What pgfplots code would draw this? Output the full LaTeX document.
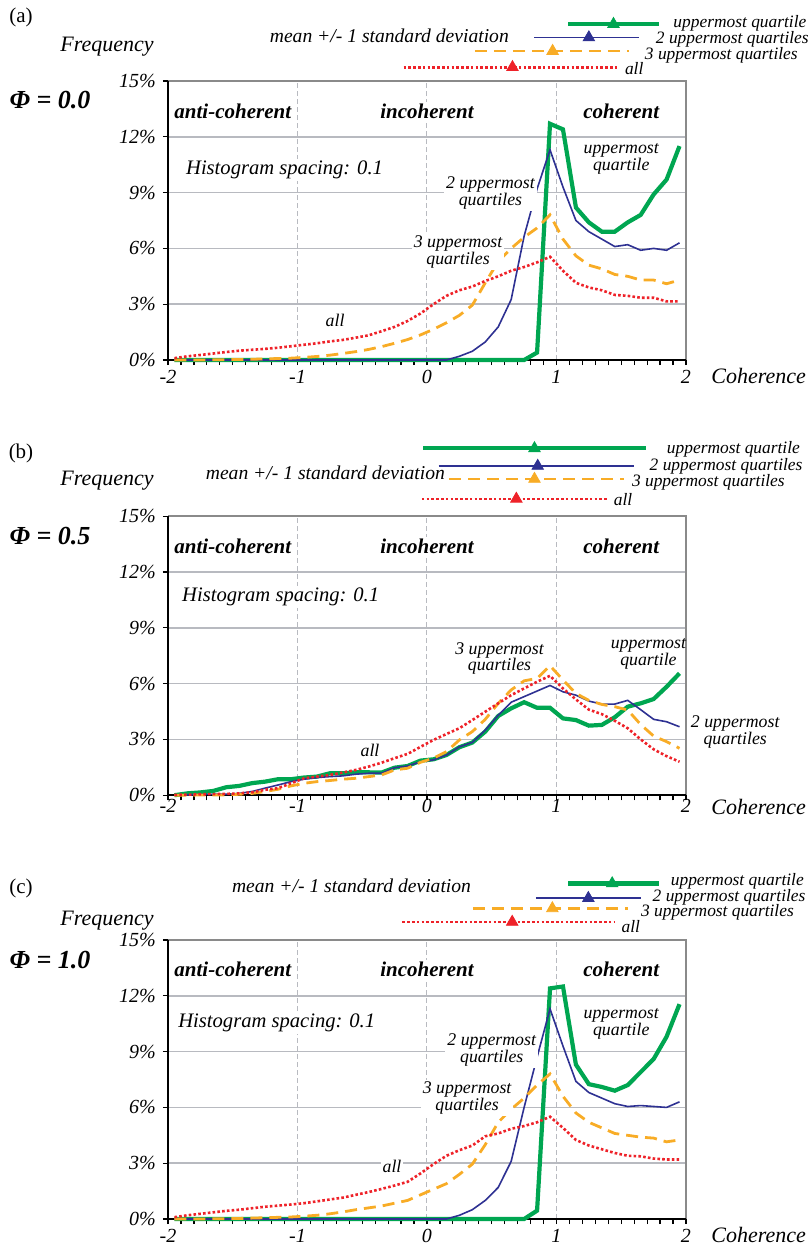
\documentclass[border=0pt]{standalone}
\usepackage{pgfplots}
\pgfplotsset{compat=1.18}
\usepackage{pgfplotstable}
\usepackage{fontspec}
\setmainfont{Liberation Serif}

\definecolor{qgreen}{HTML}{00A651}
\definecolor{qblue}{HTML}{2E3192}
\definecolor{qorange}{HTML}{F8AC26}
\definecolor{qred}{HTML}{EE2229}
\definecolor{gridgray}{HTML}{B8BAC0}
\definecolor{framegray}{HTML}{8A8A8A}

\newcommand{\fs}[2]{\fontsize{#1}{#2}\selectfont}

% columns: bin centre, uppermost quartile, 2 uppermost, 3 uppermost, all (in %)
\pgfplotstableread{
x g b o r
-1.95 0 0 0 0.10
-1.85 0 0 0 0.20
-1.75 0 0 0 0.27
-1.65 0 0 0.01 0.35
-1.55 0 0 0.02 0.43
-1.45 0 0 0.03 0.50
-1.35 0 0 0.04 0.55
-1.25 0 0 0.06 0.60
-1.15 0 0 0.08 0.66
-1.05 0 0 0.10 0.74
-0.95 0 0 0.14 0.82
-0.85 0 0 0.19 0.90
-0.75 0 0 0.26 1.00
-0.65 0 0 0.35 1.08
-0.55 0 0 0.45 1.20
-0.45 0 0 0.57 1.33
-0.35 0 0 0.72 1.55
-0.25 0 0 0.90 1.78
-0.15 0 0 1.10 2.10
-0.05 0 0 1.35 2.50
0.05 0 0 1.65 3.00
0.15 0 0 2.00 3.45
0.25 0 0.20 2.40 3.75
0.35 0 0.47 2.95 3.95
0.45 0 0.97 4.15 4.25
0.55 0 1.78 5.30 4.50
0.65 0 3.25 6.00 4.80
0.75 0 6.66 6.60 5.00
0.85 0.40 9.20 7.10 5.25
0.95 12.70 11.30 7.80 5.55
1.05 12.40 9.30 6.50 4.80
1.15 8.20 7.50 5.60 4.15
1.25 7.40 6.90 5.10 3.90
1.35 6.90 6.50 4.90 3.75
1.45 6.90 6.10 4.60 3.50
1.55 7.40 6.20 4.50 3.45
1.65 7.80 5.90 4.30 3.35
1.75 8.90 6.00 4.30 3.35
1.85 9.70 5.90 4.10 3.15
1.95 11.50 6.30 4.30 3.15
}\tabA

\pgfplotstableread{
x g b o r
-1.95 0.00 0.00 0.00 0.02
-1.85 0.10 0.02 0.00 0.03
-1.75 0.15 0.04 0.01 0.05
-1.65 0.23 0.05 0.01 0.06
-1.55 0.43 0.05 0.02 0.07
-1.45 0.50 0.10 0.05 0.10
-1.35 0.65 0.20 0.10 0.16
-1.25 0.73 0.38 0.20 0.29
-1.15 0.86 0.55 0.32 0.38
-1.05 0.86 0.73 0.50 0.64
-0.95 0.95 0.86 0.64 0.91
-0.85 1.00 0.95 0.73 1.00
-0.75 1.18 1.00 0.79 1.09
-0.65 1.18 1.04 0.86 1.22
-0.55 1.23 1.13 0.91 1.36
-0.45 1.23 1.18 1.00 1.54
-0.35 1.22 1.18 1.09 1.75
-0.25 1.48 1.48 1.36 1.99
-0.15 1.57 1.57 1.45 2.22
-0.05 1.86 1.80 1.77 2.60
0.05 1.93 1.90 1.99 2.97
0.15 2.16 2.16 2.34 3.29
0.25 2.58 2.60 2.97 3.60
0.35 2.83 2.84 3.42 4.04
0.45 3.42 3.50 4.08 4.49
0.55 4.26 4.30 4.94 4.94
0.65 4.67 5.00 5.66 5.38
0.75 5.00 5.30 6.15 5.74
0.85 4.70 5.60 6.28 6.10
0.95 4.70 5.90 6.96 6.42
1.05 4.13 5.56 6.20 5.74
1.15 4.04 5.38 5.47 5.15
1.25 3.74 5.06 5.10 4.60
1.35 3.78 4.90 4.88 4.36
1.45 4.19 4.90 4.76 4.00
1.55 4.76 5.10 4.58 3.60
1.65 4.94 4.60 3.80 3.00
1.75 5.17 4.08 3.18 2.47
1.85 5.83 3.95 2.88 2.10
1.95 6.55 3.68 2.52 1.80
}\tabB

\pgfplotstableread{
x g b o r
-1.95 0 0 0 0.10
-1.85 0 0 0 0.20
-1.75 0 0 0 0.28
-1.65 0 0 0.01 0.36
-1.55 0 0 0.02 0.44
-1.45 0 0 0.03 0.50
-1.35 0 0 0.05 0.58
-1.25 0 0 0.07 0.66
-1.15 0 0 0.09 0.72
-1.05 0 0 0.11 0.78
-0.95 0 0 0.15 0.85
-0.85 0 0 0.20 0.95
-0.75 0 0 0.28 1.05
-0.65 0 0 0.38 1.15
-0.55 0 0 0.50 1.30
-0.45 0 0 0.60 1.45
-0.35 0 0 0.70 1.62
-0.25 0 0 0.85 1.80
-0.15 0 0 1.00 2.00
-0.05 0 0 1.30 2.45
0.05 0 0 1.60 2.95
0.15 0 0 1.90 3.40
0.25 0 0.20 2.40 3.70
0.35 0 0.50 2.95 3.95
0.45 0 1.00 4.00 4.45
0.55 0 1.70 5.20 4.60
0.65 0 3.10 5.90 4.85
0.75 0 6.00 6.50 5.00
0.85 0.45 8.70 7.20 5.20
0.95 12.40 11.30 7.80 5.50
1.05 12.50 9.30 6.60 4.90
1.15 8.30 7.40 5.70 4.25
1.25 7.25 6.80 5.20 3.95
1.35 7.10 6.50 4.90 3.75
1.45 6.90 6.20 4.60 3.55
1.55 7.20 6.05 4.50 3.40
1.65 7.90 6.10 4.40 3.37
1.75 8.60 6.05 4.35 3.25
1.85 9.80 6.00 4.15 3.20
1.95 11.55 6.30 4.25 3.20
}\tabC

\pgfplotsset{
  cohaxis/.style={
    scale only axis, width=259pt, height=139.5pt,
    anchor=south west, clip=false,
    xmin=-2, xmax=2, ymin=0, ymax=15,
    xtick={-2,-1,0,1,2}, xticklabels={-2,-1,0,1,2},
    minor x tick num=9,
    ytick={0,3,6,9,12,15}, yticklabels={0\%,3\%,6\%,9\%,12\%,15\%},
    tick align=outside, tick pos=left,
    major tick length=2.6pt, minor tick length=2.6pt,
    tick style={black, line width=0.6pt},
    xmajorgrids, ymajorgrids,
    x grid style={gridgray, dash pattern=on 2.5pt off 1.5pt, line width=0.5pt},
    y grid style={gridgray, line width=0.8pt},
    axis line style={draw=none},
    ticklabel style={font=\fs{10}{12}\itshape},
    xticklabel style={yshift=1pt},
    /pgf/number format/assume math mode=true,
  },
  qg/.style={draw=qgreen, line width=2.1pt},
  qb/.style={draw=qblue, line width=0.8pt},
  qo/.style={draw=qorange, line width=1.4pt, dash pattern=on 6pt off 3.5pt},
  qr/.style={draw=qred, line width=1.3pt, dash pattern=on 1.3pt off 1.1pt},
  tri/.style={only marks, mark=triangle*, mark size=3.3pt, mark options={solid}},
}
\tikzset{
  reg/.style={font=\fs{10.5}{12}\bfseries\itshape, fill=white, inner sep=1pt},
  lab/.style={font=\fs{8.9}{8.4}\itshape, align=center, fill=white, inner sep=1pt},
  leg/.style={font=\fs{8.7}{10}\itshape, anchor=west, inner sep=0pt},
  xlab/.style={anchor=west, font=\fs{11}{13}\itshape, inner sep=0pt, xshift=12.5pt, yshift=-8pt},
}

% frame: grey top and right, black left and bottom
\newcommand{\frameaxis}{%
  \draw[framegray, line width=1pt] (rel axis cs:0,1) -- (rel axis cs:1,1) -- (rel axis cs:1,0);
  \draw[black, line width=0.9pt] (rel axis cs:0,1) -- (rel axis cs:0,0) -- (rel axis cs:1,0);
}
\newcommand{\series}[1]{%
  \addplot[qg] table[x=x,y=g] {#1};
  \addplot[qb] table[x=x,y=b] {#1};
  \addplot[qo] table[x=x,y=o] {#1};
  \addplot[qr] table[x=x,y=r] {#1};
}

\begin{document}
\begin{tikzpicture}
\useasboundingbox (0,0) rectangle (406pt,-625pt);

% ---------------- (a) Phi = 0.0 ----------------
\begin{axis}[cohaxis, at={(84pt,-180pt)}]
  \frameaxis
  \series{\tabA}
  % mean +/- 1 standard deviation
  \addplot[qg] coordinates {(1.09,18.06) (1.79,18.06)};
  \addplot[qgreen, tri] coordinates {(1.44,18.06)};
  \addplot[qb] coordinates {(0.83,17.34) (1.64,17.34)};
  \addplot[qblue, tri] coordinates {(1.25,17.34)};
  \addplot[qo] coordinates {(0.37,16.61) (1.56,16.61)};
  \addplot[qorange, tri] coordinates {(0.97,16.61)};
  \addplot[qr] coordinates {(-0.18,15.74) (1.47,15.74)};
  \addplot[qred, tri] coordinates {(0.66,15.74)};
  \node[leg] at (axis cs:1.90,18.12) {uppermost quartile};
  \node[leg] at (axis cs:1.765,17.22) {2 uppermost quartiles};
  \node[leg] at (axis cs:1.68,16.4) {3 uppermost quartiles};
  \node[leg] at (axis cs:1.526,15.68) {all};
  \node[leg, anchor=east, font=\fs{9.8}{11}\itshape] at (axis cs:0.635,17.45) {mean +/- 1 standard deviation};
  \node[reg] at (axis cs:-1.5,13.35) {anti-coherent};
  \node[reg] at (axis cs:0,13.35) {incoherent};
  \node[reg] at (axis cs:1.5,13.35) {coherent};
  \node[lab, font=\fs{10.3}{12}\itshape] at (axis cs:-1.1,10.2) {Histogram spacing: 0.1};
  \node[lab] at (axis cs:1.5,10.8) {uppermost\\quartile};
  \node[lab] at (axis cs:0.49,9.0) {2 uppermost\\quartiles};
  \node[lab] at (axis cs:0.24,5.8) {3 uppermost\\quartiles};
  \node[lab, fill=none] at (axis cs:-0.71,2.15) {all};
  \node[xlab] at (axis cs:2,0) {Coherence};
\end{axis}

% ---------------- (b) Phi = 0.5 ----------------
\begin{axis}[cohaxis, at={(84pt,-397.6pt)}, xticklabel style={yshift=3pt}]
  \frameaxis
  \series{\tabB}
  \addplot[qg] coordinates {(-0.03,18.65) (1.69,18.65)};
  \addplot[qgreen, tri] coordinates {(0.83,18.65)};
  \addplot[qb] coordinates {(0.09,17.7) (1.6,17.7)};
  \addplot[qblue, tri] coordinates {(0.855,17.7)};
  \addplot[qo] coordinates {(0.17,17.0) (1.52,17.0)};
  \addplot[qorange, tri] coordinates {(0.83,17.0)};
  \addplot[qr] coordinates {(-0.04,15.93) (1.39,15.93)};
  \addplot[qred, tri] coordinates {(0.69,15.93)};
  \node[leg] at (axis cs:1.85,18.6) {uppermost quartile};
  \node[leg] at (axis cs:1.717,17.7) {2 uppermost quartiles};
  \node[leg] at (axis cs:1.58,16.8) {3 uppermost quartiles};
  \node[leg] at (axis cs:1.44,15.9) {all};
  \node[leg, anchor=east, font=\fs{9.8}{11}\itshape] at (axis cs:0.141,17.34) {mean +/- 1 standard deviation};
  \node[reg] at (axis cs:-1.5,13.4) {anti-coherent};
  \node[reg] at (axis cs:0,13.4) {incoherent};
  \node[reg] at (axis cs:1.5,13.4) {coherent};
  \node[lab, font=\fs{10.3}{12}\itshape] at (axis cs:-1.13,10.65) {Histogram spacing: 0.1};
  \node[lab, fill=none] at (axis cs:0.56,7.35) {3 uppermost\\quartiles};
  \node[lab, fill=none] at (axis cs:1.71,7.6) {uppermost\\quartile};
  \node[lab, fill=none] at (axis cs:-0.44,2.4) {all};
  \coordinate (twoB) at (axis cs:2.38,3.41);
  \node[xlab, yshift=2.2pt] at (axis cs:2,0) {Coherence};
\end{axis}
\node[lab] at (twoB) {2 uppermost\\quartiles};

% ---------------- (c) Phi = 1.0 ----------------
\begin{axis}[cohaxis, at={(84pt,-609.5pt)}]
  \frameaxis
  \series{\tabC}
  \addplot[qg] coordinates {(1.09,18.04) (1.79,18.04)};
  \addplot[qgreen, tri] coordinates {(1.43,18.04)};
  \addplot[qb] coordinates {(0.84,17.25) (1.65,17.25)};
  \addplot[qblue, tri] coordinates {(1.246,17.25)};
  \addplot[qo] coordinates {(0.354,16.7) (1.55,16.7)};
  \addplot[qorange, tri] coordinates {(0.968,16.7)};
  \addplot[qr] coordinates {(-0.19,15.97) (1.445,15.97)};
  \addplot[qred, tri] coordinates {(0.658,15.97)};
  \node[leg] at (axis cs:1.88,18.15) {uppermost quartile};
  \node[leg] at (axis cs:1.74,17.29) {2 uppermost quartiles};
  \node[leg] at (axis cs:1.65,16.48) {3 uppermost quartiles};
  \node[leg] at (axis cs:1.5,15.72) {all};
  \node[leg, anchor=east, font=\fs{9.8}{11}\itshape] at (axis cs:0.343,17.9) {mean +/- 1 standard deviation};
  \node[reg] at (axis cs:-1.5,13.4) {anti-coherent};
  \node[reg] at (axis cs:0,13.4) {incoherent};
  \node[reg] at (axis cs:1.5,13.4) {coherent};
  \node[lab, font=\fs{10.3}{12}\itshape] at (axis cs:-1.16,10.55) {Histogram spacing: 0.1};
  \node[lab] at (axis cs:1.5,10.5) {uppermost\\quartile};
  \node[lab] at (axis cs:0.5,9.1) {2 uppermost\\quartiles};
  \node[lab] at (axis cs:0.31,6.5) {3 uppermost\\quartiles};
  \node[lab] at (axis cs:-0.27,2.85) {all};
  \node[xlab] at (axis cs:2,0) {Coherence};
\end{axis}

% panel letters, axis titles and parameter values
\begin{scope}[x=0.5pt, y=-0.5pt]
  \node[font=\fs{10.5}{12}] at (21,17) {(a)};
  \node[font=\fs{10.5}{12}] at (21,453) {(b)};
  \node[font=\fs{10.5}{12}] at (21,888) {(c)};
  \node[font=\fs{11}{13}\itshape] at (107,47) {Frequency};
  \node[font=\fs{11}{13}\itshape] at (107,481) {Frequency};
  \node[font=\fs{11}{13}\itshape] at (107,921) {Frequency};
  \node[font=\fs{13}{15}\bfseries\itshape] at (50,100) {Φ = 0.0};
  \node[font=\fs{13}{15}\bfseries\itshape] at (50,536) {Φ = 0.5};
  \node[font=\fs{13}{15}\bfseries\itshape] at (50,960) {Φ = 1.0};
\end{scope}
\end{tikzpicture}
\end{document}
